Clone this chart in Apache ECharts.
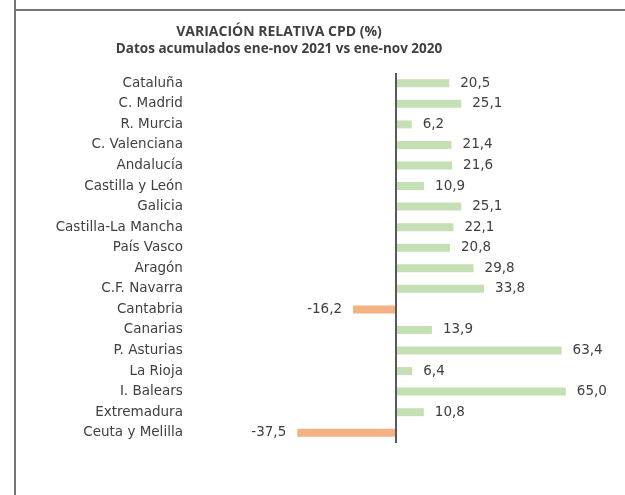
<!DOCTYPE html>
<html><head><meta charset="utf-8">
<script src="https://cdn.jsdelivr.net/npm/echarts@6/dist/echarts.min.js"></script>
<style>html,body{margin:0;padding:0;background:#fff}#c{width:625px;height:495px}</style>
</head><body><div id="c"></div>
<script>
const categories = ["Cataluña","C. Madrid","R. Murcia","C. Valenciana","Andalucía","Castilla y León","Galicia","Castilla-La Mancha","País Vasco","Aragón","C.F. Navarra","Cantabria","Canarias","P. Asturias","La Rioja","I. Balears","Extremadura","Ceuta y Melilla"];
const values = [20.5,25.1,6.2,21.4,21.6,10.9,25.1,22.1,20.8,29.8,33.8,-16.2,13.9,63.4,6.4,65.0,10.8,-37.5];
const titleText = "VARIACIÓN RELATIVA CPD (%)";
const subtitleText = "Datos acumulados ene-nov 2021 vs ene-nov 2020";

const FONT = "Open Sans";
const LFONT = "DejaVu Sans";
const chart = echarts.init(document.getElementById('c'));
chart.setOption({
  animation:false,
  title:{
    text:titleText, subtext:subtitleText,
    left:274, top:20, textAlign:'center', itemGap:3,
    textStyle:{fontFamily:FONT,fontSize:14,fontWeight:'bold',color:'#404040'},
    subtextStyle:{fontFamily:FONT,fontSize:13.5,fontWeight:'bold',color:'#404040'}
  },
  graphic:[
    {type:'line',shape:{x1:15,y1:0,x2:15,y2:495},style:{stroke:'#767676',lineWidth:2}},
    {type:'line',shape:{x1:15,y1:10,x2:625,y2:10},style:{stroke:'#767676',lineWidth:2}}
  ],
  grid:{left:185.9,width:419.2,top:73,height:370,containLabel:false},
  xAxis:{type:'value',min:-80,max:80,show:false,splitLine:{show:false}},
  yAxis:{type:'category',data:categories,inverse:true,
    axisLine:{show:false,onZero:false},axisTick:{show:false},
    axisLabel:{margin:3,fontFamily:LFONT,fontSize:13.5,color:'#404040'}},
  series:[{
    type:'bar',barWidth:8,
    data:values.map(v=>({value:v,
      itemStyle:{color:v<0?'#F4B183':'#C5E0B4'},
      label:{position:v<0?'left':'right'}})),
    label:{show:true,distance:11,fontFamily:LFONT,fontSize:13.5,color:'#404040',
      formatter:p=>p.value.toFixed(1).replace('.',',')},
    markLine:{silent:true,symbol:'none',label:{show:false},
      lineStyle:{color:'#595959',width:2,type:'solid'},
      data:[{xAxis:0}]}
  }]
});
</script></body></html>
